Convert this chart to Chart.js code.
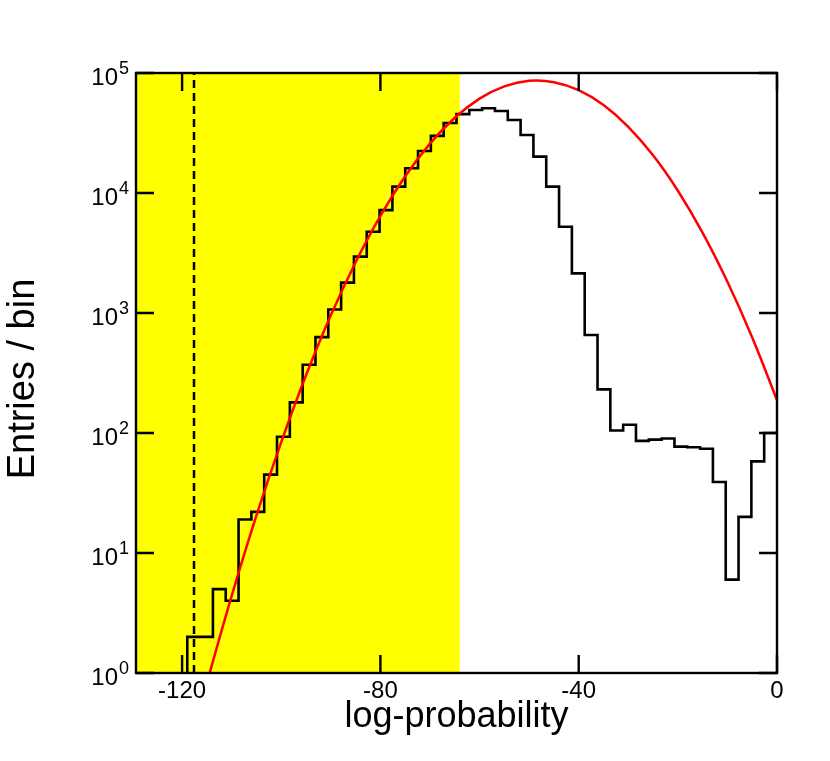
<!DOCTYPE html>
<html>
<head>
<meta charset="utf-8">
<script src="https://cdn.jsdelivr.net/npm/chart.js@4.4.1/dist/chart.umd.min.js"></script>
<style>
  html, body { margin: 0; padding: 0; background: #fff; }
</style>
</head>
<body>
<canvas id="histChart" width="830" height="761"></canvas>
<script>
// axis range and binning (50 bins over the x range)
const X_MIN = -129.3;
const X_MAX = 0;
const BIN_WIDTH = 2.586;

// entries per bin, left to right
const COUNTS = [
  0, 0, 0, 0, 2, 2, 5, 4, 19, 22,
  45, 93, 180, 370, 630, 1070, 1790, 2950, 4760, 7200,
  11300, 16100, 22400, 29900, 38300, 45400, 49200, 50800, 48200, 40600,
  30400, 20100, 11300, 5240, 2140, 656, 231, 105, 117, 86,
  88, 90, 77, 76, 74, 39, 6, 20, 58, 100
];

// red fit curve
const FIT_X = [-115, -110, -105, -100, -95, -90, -85, -80, -75, -70, -65, -60,
  -55, -50, -45, -40, -35, -30, -25, -20, -15, -10, -5, 0];
const FIT_Y = [0.83, 4.4, 20.6, 84, 303, 958, 2650, 6450, 13770, 25790, 42400, 61200,
  77400, 86100, 83900, 71900, 54000, 35600, 20600, 10450, 4660, 1820, 626, 188];

const CUT_X = -117.6;       // dashed cut line
const SHADE_END = -64;      // yellow region ends here
const X_TICKS = [-120, -80, -40, 0];
const Y_EXPONENTS = [0, 1, 2, 3, 4, 5];

const FONT = '"Liberation Sans", Arial, Helvetica, sans-serif';

const histPoints = COUNTS.map((c, i) => ({ x: X_MIN + i * BIN_WIDTH, y: Math.max(c, 0.3) }));
histPoints.push({ x: X_MAX, y: COUNTS[COUNTS.length - 1] });

const fitPoints = FIT_X.map((x, i) => ({ x, y: FIT_Y[i] }));

const decor = {
  id: 'decor',
  beforeDatasetsDraw(chart) {
    const { ctx, chartArea: a, scales: { x } } = chart;
    ctx.save();
    ctx.fillStyle = '#ffff00';
    ctx.fillRect(a.left, a.top, x.getPixelForValue(SHADE_END) - a.left, a.bottom - a.top);
    ctx.restore();
  },
  afterDraw(chart) {
    const { ctx, chartArea: a, scales: { x, y } } = chart;
    ctx.save();
    ctx.strokeStyle = '#000';
    ctx.lineWidth = 2.4;
    // inward tick marks
    const tl = 18;
    ctx.beginPath();
    X_TICKS.forEach(v => {
      const px = x.getPixelForValue(v);
      ctx.moveTo(px, a.bottom); ctx.lineTo(px, a.bottom - tl);
      ctx.moveTo(px, a.top); ctx.lineTo(px, a.top + tl);
    });
    Y_EXPONENTS.forEach(e => {
      const py = y.getPixelForValue(Math.pow(10, e));
      ctx.moveTo(a.left, py); ctx.lineTo(a.left + tl, py);
      ctx.moveTo(a.right, py); ctx.lineTo(a.right - tl, py);
    });
    ctx.stroke();
    // frame
    ctx.strokeRect(a.left, a.top, a.right - a.left, a.bottom - a.top);

    // y tick labels 10^n
    ctx.fillStyle = '#000';
    Y_EXPONENTS.forEach(e => {
      const py = y.getPixelForValue(Math.pow(10, e));
      ctx.font = '24px ' + FONT;
      ctx.textAlign = 'right';
      ctx.textBaseline = 'alphabetic';
      ctx.fillText('10', a.left - 18, py + 12);
      ctx.font = '18px ' + FONT;
      ctx.textAlign = 'left';
      ctx.fillText(String(e), a.left - 17, py + 0.5);
    });

    // axis titles
    ctx.font = '36px ' + FONT;
    ctx.textAlign = 'center';
    ctx.textBaseline = 'alphabetic';
    ctx.fillText('log-probability', (a.left + a.right) / 2, 727);
    ctx.save();
    ctx.translate(34, (a.top + a.bottom) / 2 + 6);
    ctx.rotate(-Math.PI / 2);
    ctx.font = '38px ' + FONT;
    ctx.fillText('Entries / bin', 0, 0);
    ctx.restore();
    ctx.restore();
  }
};

new Chart(document.getElementById('histChart'), {
  type: 'line',
  data: {
    datasets: [
      {
        label: 'fit',
        data: fitPoints,
        borderColor: '#ff0000',
        borderWidth: 2.5,
        pointRadius: 0,
        tension: 0.4,
        clip: 0,
      },
      {
        label: 'entries',
        data: histPoints,
        borderColor: '#000',
        borderWidth: 2.6,
        pointRadius: 0,
        stepped: 'before',
        clip: 0,
      },
      {
        label: 'cut',
        data: [{ x: CUT_X, y: 1 }, { x: CUT_X, y: 1e5 }],
        borderColor: '#000',
        borderWidth: 2.5,
        borderDash: [8, 5],
        pointRadius: 0,
        clip: 0,
      },
    ]
  },
  options: {
    responsive: false,
    animation: false,
    layout: { padding: { top: 73, right: 53, left: 0, bottom: 0 } },
    plugins: { legend: { display: false }, tooltip: { enabled: false } },
    scales: {
      x: {
        type: 'linear',
        min: X_MIN,
        max: X_MAX,
        grid: { display: false, drawTicks: false },
        border: { display: false },
        ticks: {
          color: '#000',
          font: { size: 24, family: FONT },
          padding: 4,
          maxRotation: 0,
          autoSkip: false,
        },
        afterBuildTicks: s => { s.ticks = X_TICKS.map(v => ({ value: v })); },
        afterFit: s => { s.height = 88; },
      },
      y: {
        type: 'logarithmic',
        min: 1,
        max: 1e5,
        grid: { display: false, drawTicks: false },
        border: { display: false },
        ticks: { display: false },
        afterFit: s => { s.width = 136; },
      }
    }
  },
  plugins: [decor]
});
</script>
</body>
</html>
